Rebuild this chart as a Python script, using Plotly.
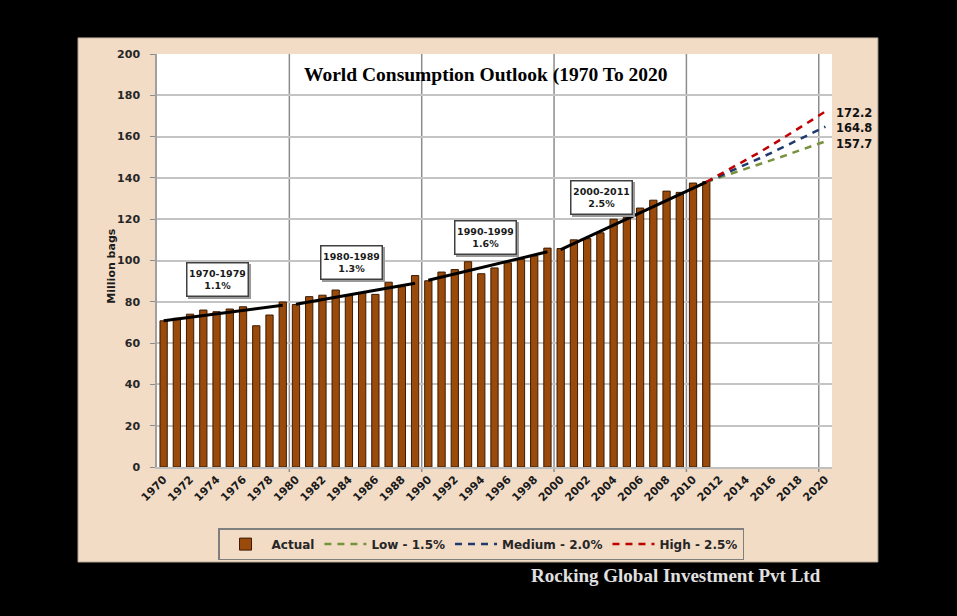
import plotly.graph_objects as go

# ---------------- data ----------------
years = list(range(1970, 2012))
actual = [70.8, 72.0, 74.0, 76.0, 75.2, 76.5, 77.6, 68.4, 73.6, 79.9,
          78.7, 82.5, 83.2, 85.7, 83.2, 84.5, 83.6, 89.5, 87.3, 92.7,
          90.2, 94.4, 95.6, 99.4, 93.6, 96.4, 98.9, 100.5, 102.3, 106.0,
          105.8, 110.0, 110.6, 113.4, 120.0, 120.9, 125.4, 129.2, 133.6, 133.0,
          137.5, 138.2]

proj_years = list(range(2011, 2021))
low = [138.0, 140.1, 142.2, 144.3, 146.5, 148.7, 150.9, 153.2, 155.5, 157.7]
medium = [138.0, 140.8, 143.6, 146.4, 149.4, 152.4, 155.4, 158.5, 161.7, 164.8]
high = [138.0, 141.5, 145.0, 148.6, 152.3, 156.1, 160.0, 164.0, 168.1, 172.2]

series_names = ["Low - 1.5%", "Medium - 2.0%", "High - 2.5%"]

trend_periods = ["1970-1979", "1980-1989", "1990-1999", "2000-2011"]
trend_rates = ["1.1%", "1.3%", "1.6%", "2.5%"]
trend_x = [(1970, 1979), (1980, 1989), (1990, 1999), (2000, 2011)]
trend_y = [(70.8, 78.3), (78.8, 89.0), (90.4, 104.2), (105.3, 138.0)]

x_ticks = list(range(1970, 2021, 2))
y_ticks = list(range(0, 201, 20))
decade_bounds = [1979.5, 1989.5, 1999.5, 2009.5, 2019.5]

title_text = "World Consumption Outlook (1970 To 2020"
y_title = "Million bags"
footer = "Rocking Global Investment Pvt Ltd"

# ---------------- style ----------------
BEIGE = "#f2dcc6"
BROWN = "#9a4a0a"
GREEN = "#76923c"
NAVY = "#1f3a6e"
RED = "#c00000"
FONT = "DejaVu Sans"

fig = go.Figure()

fig.add_trace(go.Bar(
    x=years, y=actual, name="Actual", width=0.55,
    marker=dict(color=BROWN, line=dict(color="#3d1b00", width=1)),
))

for name, vals, col in zip(series_names, [low, medium, high], [GREEN, NAVY, RED]):
    fig.add_trace(go.Scatter(
        x=proj_years, y=vals, name=name, mode="lines",
        line=dict(color=col, width=2.5, dash="7px,6px"),
    ))

for tx, ty in zip(trend_x, trend_y):
    fig.add_trace(go.Scatter(
        x=list(tx), y=list(ty), mode="lines", showlegend=False,
        line=dict(color="black", width=3), hoverinfo="skip",
    ))

shapes = [
    # beige chart area
    dict(type="rect", xref="paper", yref="paper", x0=-0.117, x1=1.068, y0=-0.230, y1=1.039,
         fillcolor=BEIGE, line=dict(color="#b5a999", width=1), layer="below"),
    # white plot area
    dict(type="rect", xref="paper", yref="paper", x0=0, x1=1, y0=0, y1=1,
         fillcolor="white", line=dict(width=0), layer="below"),
]
for xb in decade_bounds:
    shapes.append(dict(type="line", xref="x", yref="paper", x0=xb, x1=xb, y0=-0.012, y1=1,
                       line=dict(color="#8c8c8c", width=1.5), layer="below"))

annotations = [
    dict(text=title_text, xref="paper", yref="paper", x=0.487, y=0.949, showarrow=False,
         xanchor="center", yanchor="middle",
         font=dict(family="Liberation Serif", size=19.5, color="black", weight="bold")),
    dict(text=y_title, xref="paper", yref="paper", x=-0.067, y=0.487, showarrow=False,
         xanchor="center", yanchor="middle", textangle=-90,
         font=dict(family=FONT, size=11, color="#1a1a1a", weight="bold")),
    dict(text=footer, xref="paper", yref="paper", x=0.769, y=-0.262, showarrow=False,
         xanchor="center", yanchor="middle",
         font=dict(family="Liberation Serif", size=19, color="#e0e0e0", weight="bold")),
]

box_pos = [(1974.1, 91.0), (1984.2, 98.8), (1994.3, 110.9), (2003.05, 130.3)]
for (bx, by), period, rate in zip(box_pos, trend_periods, trend_rates):
    annotations.append(dict(text="", x=bx, y=by, xref="x", yref="y", showarrow=False,
                            xshift=2, yshift=-2, width=56, height=28, borderpad=2,
                            bgcolor="#9a9a9a", borderwidth=1.5, bordercolor="#9a9a9a"))
    annotations.append(dict(text=f"{period}<br>{rate}", x=bx, y=by, xref="x", yref="y",
                            showarrow=False, width=56, height=28, borderpad=2,
                            bgcolor="white", bordercolor="#404040", borderwidth=1.5,
                            font=dict(family=FONT, size=9.5, color="#1a1a1a", weight="bold")))

end_shift = [-2.5, -1.5, -2]
for vals, ys in zip([low, medium, high], end_shift):
    annotations.append(dict(text=f"{vals[-1]:.1f}", x=proj_years[-1], y=vals[-1],
                            xref="x", yref="y", showarrow=False, xanchor="left",
                            yanchor="middle", xshift=9, yshift=ys,
                            font=dict(family=FONT, size=11.5, color="#111111", weight="bold")))

fig.update_layout(
    width=957, height=616,
    margin=dict(l=157, r=125, t=54, b=149),
    paper_bgcolor="black",
    plot_bgcolor="rgba(0,0,0,0)",
    showlegend=True,
    legend=dict(orientation="h", x=0.0904, xanchor="left", y=-0.148, yanchor="top",
                bgcolor=BEIGE, bordercolor="#7f7f7f", borderwidth=1.5, itemwidth=42,
                font=dict(family=FONT, size=12, color="#262626", weight="bold"),
                traceorder="normal"),
    shapes=shapes,
    annotations=annotations,
    bargap=0.45,
)

fig.update_xaxes(
    range=[1969.5, 2020.5], tickmode="array", tickvals=x_ticks,
    ticktext=[str(v) for v in x_ticks], tickangle=-45,
    showgrid=False, zeroline=False, showline=True, linecolor="#bfbfbf", linewidth=1.5,
    ticks="", tickfont=dict(family=FONT, size=11, color="#1a1a1a", weight="bold"),
)
fig.update_yaxes(
    range=[0, 200], tickmode="array", tickvals=y_ticks,
    showgrid=True, gridcolor="#c4c4c4", gridwidth=1.5, zeroline=False,
    showline=True, linecolor="#a0a0a0", linewidth=1.5,
    ticks="outside", ticklen=5, tickcolor="#8c8c8c", ticklabelstandoff=8,
    tickfont=dict(family=FONT, size=11, color="#262626", weight="bold"),
)

fig.write_html(
    "out.html",
    config={"displayModeBar": False},
    post_script="document.body.style.margin='0';document.body.style.overflow='hidden';",
)
